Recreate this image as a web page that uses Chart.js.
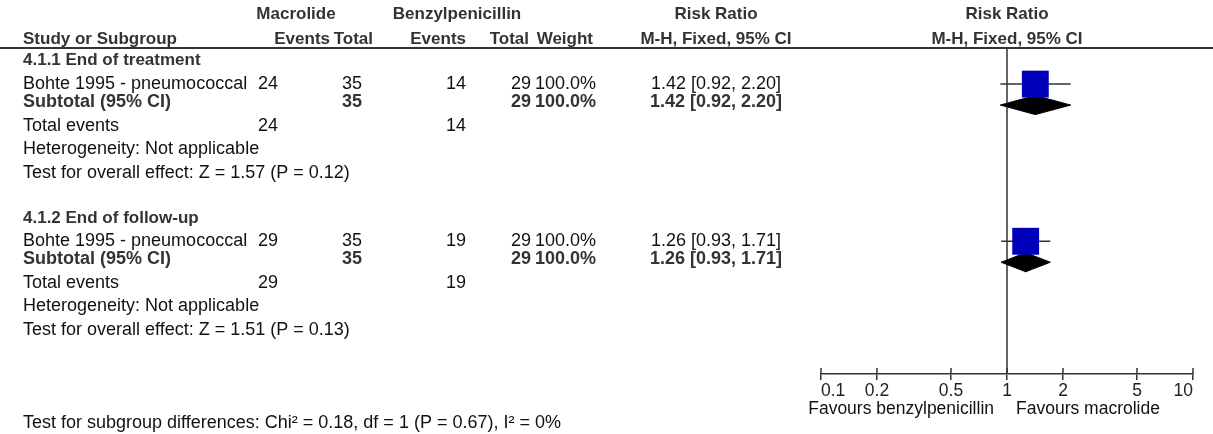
<!DOCTYPE html>
<html>
<head>
<meta charset="utf-8">
<script src="https://cdn.jsdelivr.net/npm/chart.js@4.4.0/dist/chart.umd.min.js"></script>
<style>
  html, body { margin: 0; padding: 0; background: #fff; }
  #wrap { position: relative; width: 1213px; height: 434px; }
</style>
</head>
<body>
<div id="wrap"><canvas id="forest"></canvas></div>
<script>
// forest plot data
const subgroups = ['4.1.1 End of treatment', '4.1.2 End of follow-up'];
const studies = ['Bohte 1995 - pneumococcal', 'Bohte 1995 - pneumococcal'];
const macEvents = [24, 29];
const macTotal = [35, 35];
const penEvents = [14, 19];
const penTotal = [29, 29];
const weights = ['100.0%', '100.0%'];
const rr = [1.42, 1.26];
const rrLow = [0.92, 0.93];
const rrHigh = [2.20, 1.71];
const overallTest = ['Z = 1.57 (P = 0.12)', 'Z = 1.51 (P = 0.13)'];
const tickVals = [0.1, 0.2, 0.5, 1, 2, 5, 10];
const favours = ['Favours benzylpenicillin', 'Favours macrolide'];
const subgroupTest = 'Test for subgroup differences: Chi\u00b2 = 0.18, df = 1 (P = 0.67), I\u00b2 = 0%';

// layout (row units on the y scale, px for columns)
const groupBase = [0.55, 7.3];
const OFF = { head: 0, study: 1, sub: 1.75, diamond: 1.9, total: 2.8, het: 3.8, test: 4.8 };
const DIAMOND_H = 0.41;
const COL = { study: 23, macEv: 278, macTot: 362, penEv: 466, penTot: 531, weight: 596, ci: 716 };
const FONT = '"Liberation Sans", Arial, sans-serif';
const FS = 18, FSB = 17, FSAX = 17.5;

const fmt = v => v.toFixed(2);

const datasets = [];
// line of no effect
datasets.push({
  type: 'line', data: [{x: 1, y: 0}, {x: 1, y: 14}],
  borderColor: '#333', borderWidth: 1.5, pointRadius: 0, order: 5
});
studies.forEach((s, i) => {
  const yy = groupBase[i] + OFF.study;
  datasets.push({
    type: 'line', data: [{x: rrLow[i], y: yy}, {x: rrHigh[i], y: yy}],
    borderColor: '#333', borderWidth: 1.5, pointRadius: 0, order: 4
  });
  const yd = groupBase[i] + OFF.diamond;
  datasets.push({
    type: 'line',
    data: [{x: rrLow[i], y: yd}, {x: rr[i], y: yd - DIAMOND_H}, {x: rrHigh[i], y: yd},
           {x: rr[i], y: yd + DIAMOND_H}, {x: rrLow[i], y: yd}],
    borderColor: '#000', borderWidth: 1, backgroundColor: '#000',
    fill: 'shape', pointRadius: 0, tension: 0, order: 3
  });
});
datasets.push({
  type: 'scatter',
  data: rr.map((v, i) => ({x: v, y: groupBase[i] + OFF.study})),
  pointStyle: 'rect', pointRadius: 19, backgroundColor: '#0000bb', borderWidth: 0, order: 1
});

const tablePlugin = {
  id: 'table',
  afterDraw(chart) {
    const {ctx, scales: {x, y}, chartArea} = chart;
    const txt = (s, px, py, align, b, size) => {
      ctx.font = (b ? 'bold ' : '') + (size || (b ? FSB : FS)) + 'px ' + FONT;
      ctx.fillStyle = b ? '#333' : '#111';
      ctx.textAlign = align;
      ctx.textBaseline = 'middle';
      ctx.fillText(s, px, py);
    };
    ctx.save();
    const plotMid = (chartArea.left + chartArea.right) / 2;
    // header
    txt('Macrolide', 296, 14, 'center', true);
    txt('Benzylpenicillin', 457, 14, 'center', true);
    txt('Risk Ratio', COL.ci, 14, 'center', true);
    txt('Risk Ratio', plotMid, 14, 'center', true);
    txt('Study or Subgroup', COL.study, 39, 'left', true);
    txt('Events', 330, 39, 'right', true);
    txt('Total', 373, 39, 'right', true);
    txt('Events', 466, 39, 'right', true);
    txt('Total', 529, 39, 'right', true);
    txt('Weight', 593, 39, 'right', true);
    txt('M-H, Fixed, 95% CI', COL.ci, 39, 'center', true);
    txt('M-H, Fixed, 95% CI', plotMid, 39, 'center', true);
    ctx.strokeStyle = '#333'; ctx.lineWidth = 2;
    ctx.beginPath(); ctx.moveTo(0, chartArea.top); ctx.lineTo(1213, chartArea.top); ctx.stroke();

    subgroups.forEach((g, i) => {
      const b = groupBase[i];
      const py = k => y.getPixelForValue(b + OFF[k]);
      const ci = fmt(rr[i]) + ' [' + fmt(rrLow[i]) + ', ' + fmt(rrHigh[i]) + ']';
      txt(g, COL.study, py('head'), 'left', true);
      txt(studies[i], COL.study, py('study'), 'left');
      txt(String(macEvents[i]), COL.macEv, py('study'), 'right');
      txt(String(macTotal[i]), COL.macTot, py('study'), 'right');
      txt(String(penEvents[i]), COL.penEv, py('study'), 'right');
      txt(String(penTotal[i]), COL.penTot, py('study'), 'right');
      txt(weights[i], COL.weight, py('study'), 'right');
      txt(ci, COL.ci, py('study'), 'center');
      txt('Subtotal (95% CI)', COL.study, py('sub'), 'left', true, FS);
      txt(String(macTotal[i]), COL.macTot, py('sub'), 'right', true, FS);
      txt(String(penTotal[i]), COL.penTot, py('sub'), 'right', true, FS);
      txt(weights[i], COL.weight, py('sub'), 'right', true, FS);
      txt(ci, COL.ci, py('sub'), 'center', true, FS);
      txt('Total events', COL.study, py('total'), 'left');
      txt(String(macEvents[i]), COL.macEv, py('total'), 'right');
      txt(String(penEvents[i]), COL.penEv, py('total'), 'right');
      txt('Heterogeneity: Not applicable', COL.study, py('het'), 'left');
      txt('Test for overall effect: ' + overallTest[i], COL.study, py('test'), 'left');
    });

    // upper half of the axis ticks
    ctx.strokeStyle = '#333'; ctx.lineWidth = 1.5;
    tickVals.forEach(v => {
      const px = Math.round(x.getPixelForValue(v));
      ctx.beginPath(); ctx.moveTo(px, chartArea.bottom); ctx.lineTo(px, chartArea.bottom - 6); ctx.stroke();
    });
    const one = x.getPixelForValue(1);
    txt(favours[0], one - 13, 409, 'right', false, FSAX);
    txt(favours[1], one + 9, 409, 'left', false, FSAX);
    txt(subgroupTest, COL.study, 423, 'left');
    ctx.restore();
  }
};

new Chart(document.getElementById('forest'), {
  type: 'scatter',
  data: { datasets },
  options: {
    responsive: true, maintainAspectRatio: false, animation: false,
    layout: { padding: { left: 821, right: 20, top: 48, bottom: 0 } },
    plugins: { legend: { display: false }, tooltip: { enabled: false } },
    scales: {
      x: {
        type: 'logarithmic', min: 0.1, max: 10,
        afterBuildTicks: s => { s.ticks = tickVals.map(v => ({ value: v })); },
        afterFit: s => { s.height = 60; },
        ticks: {
          callback: v => String(v), align: 'inner', autoSkip: false, maxRotation: 0,
          color: '#222', font: { family: FONT, size: FSAX }, padding: 1
        },
        grid: { drawOnChartArea: false, drawTicks: true, tickLength: 6, color: '#333', lineWidth: 1.5 },
        border: { display: true, color: '#333', width: 1.5 }
      },
      y: { type: 'linear', reverse: true, min: 0, max: 14, display: false }
    }
  },
  plugins: [tablePlugin]
});
</script>
</body>
</html>
